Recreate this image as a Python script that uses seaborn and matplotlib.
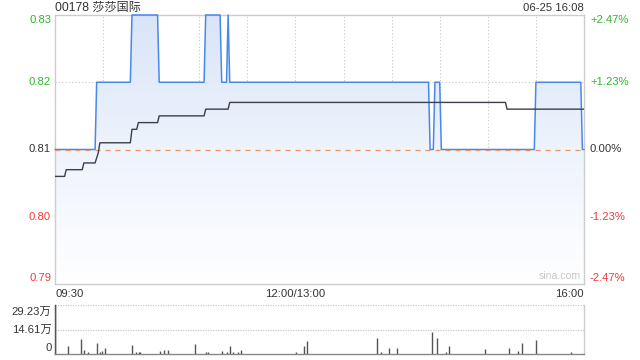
import numpy as np
import pandas as pd
import matplotlib
matplotlib.use("Agg")
import matplotlib.pyplot as plt
import seaborn as sns
from matplotlib.colors import LinearSegmentedColormap

# ---------------- data ----------------
title = "00178 莎莎国际"
stamp = "06-25 16:08"
prev_close = 0.81

# price change points (minutes since 09:30, trading minutes; 150 = 12:00/13:00)
price_min = [0, 25, 26, 47, 48, 64, 65, 93, 94, 103, 104, 107, 108, 109,
             233, 234, 236, 237, 240, 241, 299, 300, 328, 329, 330]
price_val = [0.81, 0.81, 0.82, 0.82, 0.83, 0.83, 0.82, 0.82, 0.83, 0.83, 0.82, 0.82, 0.83, 0.82,
             0.82, 0.81, 0.81, 0.82, 0.82, 0.81, 0.81, 0.82, 0.82, 0.81, 0.81]

avg_min = [0, 6, 7, 17, 18, 25, 27, 28, 47, 48, 51, 52, 64, 65, 93, 94, 108, 109, 281, 282, 330]
avg_val = [0.806, 0.806, 0.807, 0.807, 0.808, 0.808, 0.8095, 0.811, 0.811, 0.813, 0.813, 0.814,
           0.814, 0.815, 0.815, 0.816, 0.816, 0.817, 0.817, 0.816, 0.816]

vol_min = [0, 8, 16, 18, 20, 26, 28, 29, 31, 48, 50, 52, 53, 65, 68, 70, 87, 94, 95, 104, 107,
           109, 111, 114, 116, 150, 155, 157, 201, 203, 208, 213, 235, 238, 244, 246, 268,
           283, 289, 291, 300, 322]
vol_val = [29.23, 5.0, 9.1, 2.6, 1.4, 6.8, 1.0, 2.0, 3.8, 5.6, 1.4, 1.4, 1.0, 2.0, 2.6, 2.6, 6.2,
           1.0, 1.0, 1.5, 1.4, 5.0, 1.4, 1.0, 2.6, 1.0, 5.0, 8.0, 9.7, 1.0, 3.8, 3.8, 13.3, 9.7,
           1.0, 5.0, 3.2, 3.8, 2.0, 6.8, 8.5, 1.0]

left_labels = ["0.83", "0.82", "0.81", "0.80", "0.79"]
right_labels = ["+2.47%", "+1.23%", "0.00%", "-1.23%", "-2.47%"]
vol_labels = ["29.23万", "14.61万", "0"]
x_labels = ["09:30", "12:00/13:00", "16:00"]
x_label_pos = [0, 150, 330]

# ---------------- style ----------------
sns.set_style("white")
plt.rcParams['font.family'] = ['Liberation Sans', 'Noto Sans CJK SC', 'DejaVu Sans']

GREEN = "#2fb52f"
RED = "#f03a3a"
DARK = "#333333"
BLUE = "#4a88e8"
GRID = "#c8c8c8"
FS = 8.1

fig = plt.figure(figsize=(6.4, 3.6), dpi=100)
W, H = 640, 360

def px_axes(x0, y0, x1, y1):
    return fig.add_axes([x0 / W, 1 - y1 / H, (x1 - x0) / W, (y1 - y0) / H])

ax = px_axes(55, 15, 584, 284)
axv = px_axes(55, 305, 584, 354)

# ---------------- main chart ----------------
ax.set_xlim(0, 330)
ax.set_ylim(0.79, 0.83)

price_df = pd.DataFrame({"t": price_min, "p": price_val})
avg_df = pd.DataFrame({"t": avg_min, "p": avg_val})

for v in [0.82, 0.80]:
    ax.axhline(v, color=GRID, lw=0.8, ls=(0, (1, 2)), zorder=1)
for t in range(30, 330, 30):
    ax.axvline(t, color=GRID, lw=0.8, ls=(0, (1, 2)), zorder=1)

poly = ax.fill_between(price_df["t"], price_df["p"], 0.79, color="none", lw=0, zorder=2)
grad = np.linspace(0, 1, 256).reshape(-1, 1)
cmap = LinearSegmentedColormap.from_list("g", ["#ffffff", "#eef3fc", "#d8e4f8"])
im = ax.imshow(grad, extent=[0, 330, 0.79, 0.8305], origin="lower", cmap=cmap,
               aspect="auto", zorder=2)
im.set_clip_path(poly.get_paths()[0], transform=ax.transData)
ax.set_xlim(0, 330)
ax.set_ylim(0.79, 0.83)

ax.axhline(prev_close, color="#e8956c", lw=0.9, ls=(0, (4, 4)), zorder=5)

sns.lineplot(data=price_df, x="t", y="p", ax=ax, color=BLUE, lw=1.1, zorder=4,
             estimator=None, sort=False, clip_on=False)
sns.lineplot(data=avg_df, x="t", y="p", ax=ax, color="#3a3f4a", lw=1.0, zorder=6,
             estimator=None, sort=False)

ax.set_xlabel("")
ax.set_ylabel("")
ax.set_xticks([])
ax.set_yticks([])
for s in ax.spines.values():
    s.set_color("#cccccc")
    s.set_linewidth(1.0)

lcol = [GREEN, GREEN, DARK, RED, RED]
ypos = [0.83, 0.82, 0.81, 0.80, 0.79]
yadj = [-0.0008, 0, 0, 0, 0.0009]
for v, lab, rlab, c, d in zip(ypos, left_labels, right_labels, lcol, yadj):
    ax.text(-4 / 529 * 330, v + d, lab, ha="right", va="center", fontsize=FS, color=c)
    ax.text(330 + 6 / 529 * 330, v + d, rlab, ha="left", va="center", fontsize=FS, color=c)

ax.text(315, 0.7905, "sina.com", ha="center", va="bottom", fontsize=FS - 0.5, color="#c8c8c8")

for lab, pos, ha in zip(x_labels, x_label_pos, ["left", "center", "right"]):
    ax.text(pos, 0.79 - 0.0015, lab, ha=ha, va="center", fontsize=FS, color=DARK)

fig.text(55 / W, 1 - 8 / H, title, ha="left", va="center", fontsize=FS + 0.6, color=DARK)
fig.text(584 / W, 1 - 8 / H, stamp, ha="right", va="center", fontsize=FS, color=DARK)

# ---------------- volume ----------------
axv.set_xlim(-0.3, 330)
axv.set_ylim(0, 29.23)
for v in [29.23, 14.61]:
    axv.axhline(v, color=GRID, lw=0.9, ls=(0, (1, 1)), zorder=1)
axv.vlines(vol_min, 0, vol_val, color="#555555", lw=1.0, zorder=3)
axv.set_xticks([])
axv.set_yticks([])
axv.spines["top"].set_visible(False)
axv.spines["bottom"].set_color("#888888")
axv.spines["bottom"].set_linestyle((0, (1, 1)))
axv.spines["bottom"].set_linewidth(1.0)
axv.spines["left"].set_color("#444444")
axv.spines["left"].set_linewidth(1.0)
axv.spines["right"].set_color("#cccccc")
axv.spines["right"].set_linewidth(1.0)

vpos = [29.23 - 4.2, 14.61, 3.5]
for v, lab in zip(vpos, vol_labels):
    axv.text(-4 / 529 * 330, v, lab, ha="right", va="center", fontsize=FS, color=DARK)

fig.savefig("out.png", dpi=100)
